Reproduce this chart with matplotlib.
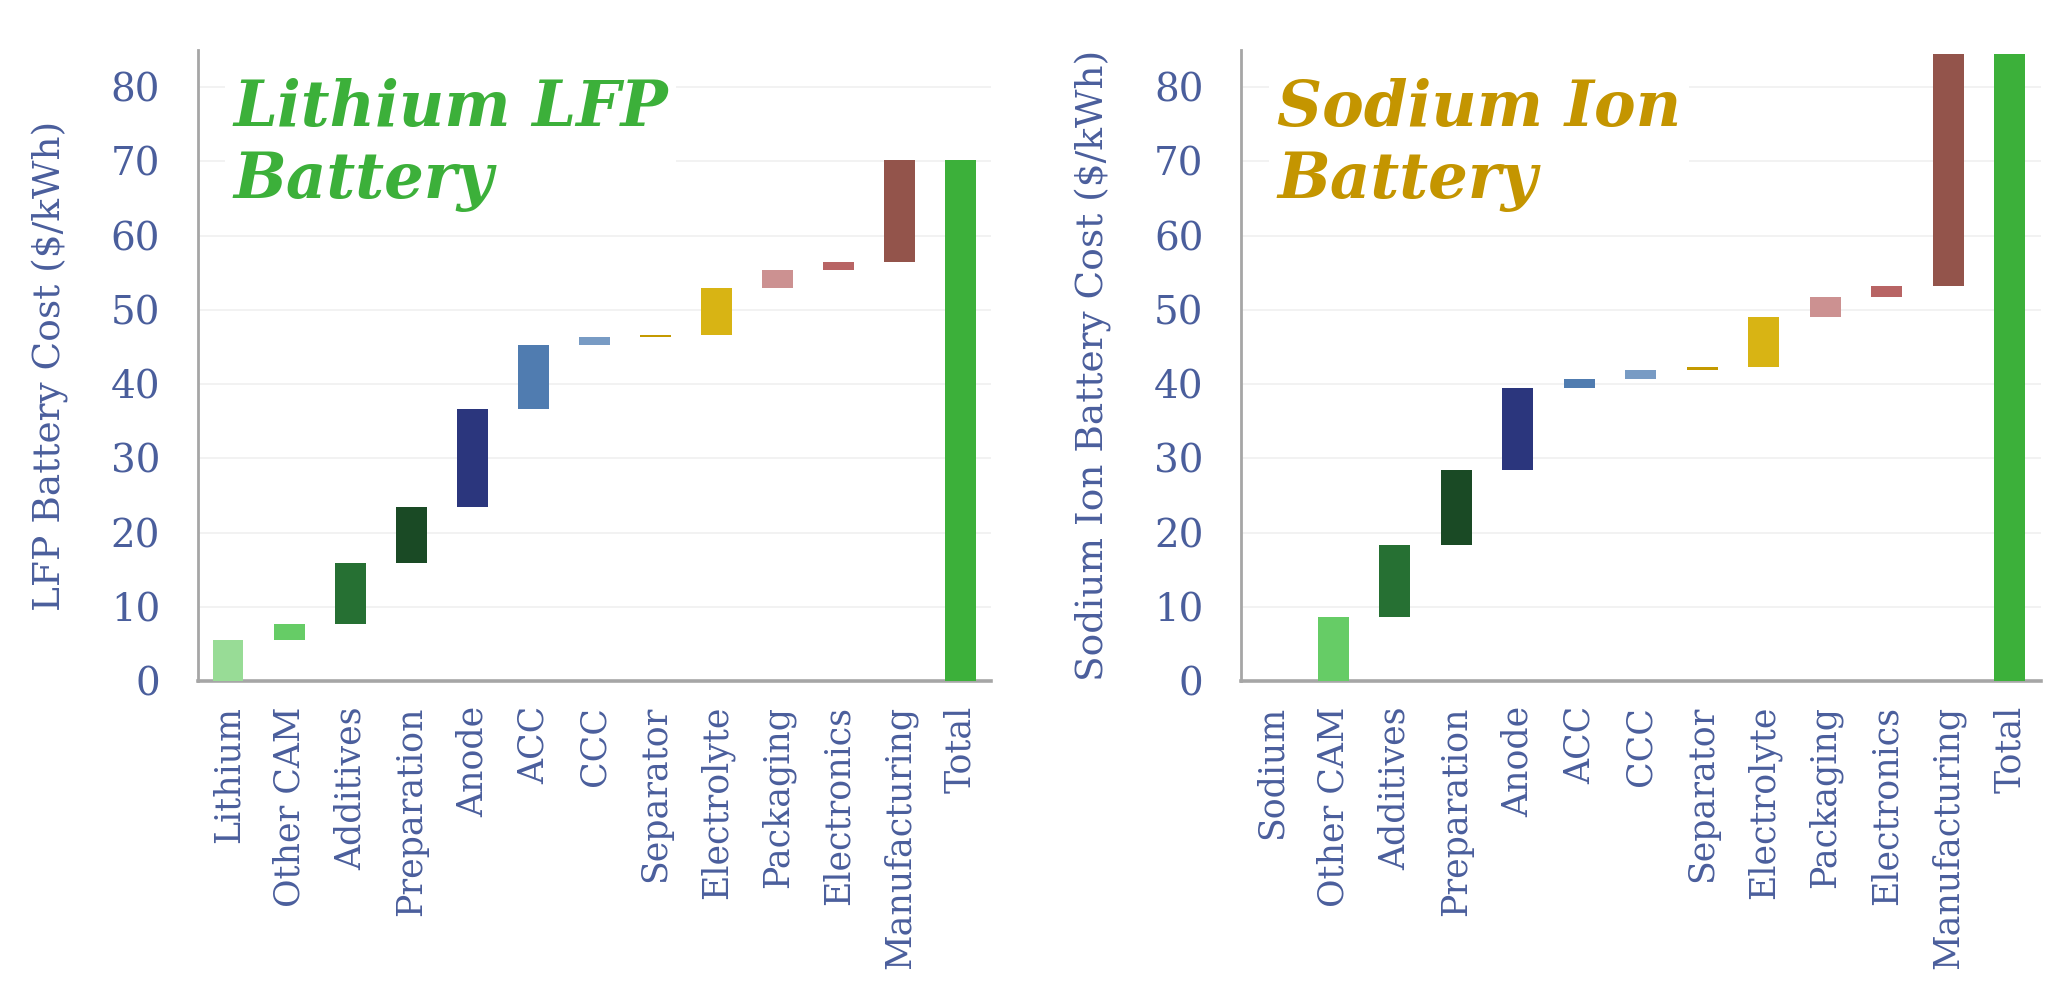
import numpy as np
import matplotlib
matplotlib.use("Agg")
import matplotlib.pyplot as plt

# ---- data ----
lfp_categories = ["Lithium", "Other CAM", "Additives", "Preparation", "Anode", "ACC", "CCC",
                  "Separator", "Electrolyte", "Packaging", "Electronics", "Manufacturing", "Total"]
lfp_steps = [5.6, 2.1, 8.2, 7.6, 13.2, 8.6, 1.0, 0.3, 6.4, 2.4, 1.0, 13.8]

na_categories = ["Sodium", "Other CAM", "Additives", "Preparation", "Anode", "ACC", "CCC",
                 "Separator", "Electrolyte", "Packaging", "Electronics", "Manufacturing", "Total"]
na_steps = [0.0, 8.7, 9.7, 10.0, 11.1, 1.2, 1.2, 0.4, 6.7, 2.8, 1.35, 31.3]

yticks = [0, 10, 20, 30, 40, 50, 60, 70, 80]

bar_colors = ["#98DC96", "#66CC66", "#267033", "#1A4A25", "#2B367D", "#507CB0", "#789BC4",
              "#C49A00", "#D8B414", "#CC9191", "#B86464", "#93544B", "#3CB03A"]

label_color = "#4A5E9C"
spine_color = "#A6A6A6"

fig = plt.figure(figsize=(20.66, 9.9), dpi=100)
ax1 = fig.add_axes([0.0957, 0.312, 0.384, 0.6375])
ax2 = fig.add_axes([0.6007, 0.312, 0.387, 0.6375])

serif = ["DejaVu Serif"]


def waterfall(ax, cats, steps, ylabel, title, title_color):
    steps = np.array(steps, dtype=float)
    tops = np.cumsum(steps)
    bottoms = tops - steps
    heights = list(steps) + [tops[-1]]
    bots = list(bottoms) + [0.0]
    x = np.arange(len(cats))
    ax.bar(x, heights, bottom=bots, width=0.5, color=bar_colors, zorder=3, linewidth=0)
    ax.set_xlim(-0.5, len(cats) - 0.5)
    ax.set_ylim(0, 85)
    ax.set_yticks(yticks)
    ax.set_yticklabels([str(t) for t in yticks], fontsize=28, color=label_color, family=serif)
    ax.set_xticks(x)
    ax.set_xticklabels(cats, rotation=90, fontsize=25, color=label_color, family=serif)
    ax.tick_params(axis="y", length=0, pad=27)
    ax.tick_params(axis="x", length=0, pad=18)
    for s in ["top", "right"]:
        ax.spines[s].set_visible(False)
    for s in ["left", "bottom"]:
        ax.spines[s].set_color(spine_color)
    ax.spines["left"].set_linewidth(2.0)
    ax.spines["bottom"].set_linewidth(2.6)
    ax.yaxis.grid(True, color="#F0F0F0", linewidth=1.2, zorder=0)
    ax.set_axisbelow(True)
    ax.set_ylabel(ylabel, fontsize=27, color=label_color, family=serif, labelpad=30)
    ax.text(0.045, 0.955, title, transform=ax.transAxes, fontsize=45, color=title_color,
            family=serif, fontweight="bold", fontstyle="italic", va="top", ha="left",
            linespacing=1.22, zorder=4,
            bbox=dict(facecolor="white", edgecolor="none", pad=6))


waterfall(ax1, lfp_categories, lfp_steps, "LFP Battery Cost ($/kWh)",
          "Lithium LFP\nBattery", "#3CB03A")
waterfall(ax2, na_categories, na_steps, "Sodium Ion Battery Cost ($/kWh)",
          "Sodium Ion\nBattery", "#C49500")

fig.savefig("out.png", dpi=100, facecolor="white")
